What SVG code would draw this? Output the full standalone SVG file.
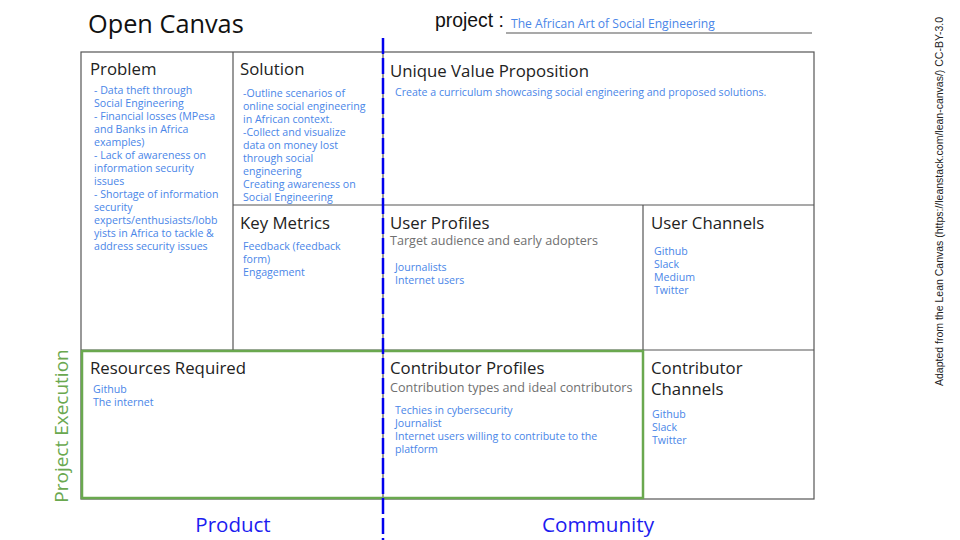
<svg xmlns="http://www.w3.org/2000/svg" width="960" height="540" viewBox="0 0 960 540">
<style>
.h{font-family:"Open Sans","Noto Sans",sans-serif;font-size:16.8px;fill:#222}
.b{font-family:"Open Sans","Noto Sans",sans-serif;font-size:10.6px;fill:#4a86e8}
.s{font-family:"Open Sans","Noto Sans",sans-serif;font-size:12.6px;fill:#707070}
.ln{stroke:#555;stroke-width:1.2;fill:none}
</style>
<rect width="960" height="540" fill="#fff"/>
<text x="88" y="33" font-family="'Open Sans','Noto Sans',sans-serif" font-size="25.3" fill="#111">Open Canvas</text>
<text x="435" y="27" font-family="'Liberation Sans',Arial,sans-serif" font-size="19.4" fill="#111">project :</text>
<line x1="506" y1="33" x2="812" y2="33" stroke="#555" stroke-width="1.2"/>
<text x="511" y="28" class="b" style="font-size:12.1px">The African Art of Social Engineering</text>
<text transform="translate(943,386) rotate(-90)" font-family="'Liberation Sans',Arial,sans-serif" font-size="10.5" fill="#222">Adapted from the Lean Canvas (https://leanstack.com/lean-canvas/) CC-BY-3.0</text>

<g id="grid">
<rect x="81" y="52" width="733" height="447" class="ln"/>
<line x1="233" y1="52" x2="233" y2="350" class="ln"/>
<line x1="383" y1="52" x2="383" y2="499" class="ln"/>
<line x1="233" y1="205" x2="814" y2="205" class="ln" stroke="#222"/>
<line x1="643" y1="205" x2="643" y2="499" class="ln"/>
<line x1="81" y1="350" x2="814" y2="350" class="ln"/>
</g>

<g id="problem">
<text x="90" y="75" class="h">Problem</text>
<text class="b"><tspan x="94" y="94">- Data theft through</tspan><tspan x="94" y="107">Social Engineering</tspan><tspan x="94" y="120">- Financial losses (MPesa</tspan><tspan x="94" y="133">and Banks in Africa</tspan><tspan x="94" y="146">examples)</tspan><tspan x="94" y="159">- Lack of awareness on</tspan><tspan x="94" y="172">information security</tspan><tspan x="94" y="185">issues</tspan><tspan x="94" y="198">- Shortage of information</tspan><tspan x="94" y="211">security</tspan><tspan x="94" y="224">experts/enthusiasts/lobb</tspan><tspan x="94" y="237">yists in Africa to tackle &amp;</tspan><tspan x="94" y="250">address security issues</tspan></text>
</g>

<g id="solution">
<text x="240" y="75" class="h">Solution</text>
<text class="b"><tspan x="243" y="97">-Outline scenarios of</tspan><tspan x="243" y="110">online social engineering</tspan><tspan x="243" y="123">in African context.</tspan><tspan x="243" y="136">-Collect and visualize</tspan><tspan x="243" y="149">data on money lost</tspan><tspan x="243" y="162">through social</tspan><tspan x="243" y="175">engineering</tspan><tspan x="243" y="188">Creating awareness on</tspan><tspan x="243" y="201">Social Engineering</tspan></text>
</g>

<g id="key-metrics">
<text x="240" y="229" class="h">Key Metrics</text>
<text class="b"><tspan x="243" y="250">Feedback (feedback</tspan><tspan x="243" y="263">form)</tspan><tspan x="243" y="276">Engagement</tspan></text>
</g>

<g id="uvp">
<text x="390" y="77" class="h">Unique Value Proposition</text>
<text x="395" y="96" class="b" style="font-size:10.6px">Create a curriculum showcasing social engineering and proposed solutions.</text>
</g>

<g id="user-profiles">
<text x="390" y="229" class="h">User Profiles</text>
<text x="390" y="245" class="s">Target audience and early adopters</text>
<text class="b"><tspan x="395" y="271">Journalists</tspan><tspan x="395" y="284">Internet users</tspan></text>
</g>

<g id="user-channels">
<text x="651" y="229" class="h">User Channels</text>
<text class="b"><tspan x="654" y="255">Github</tspan><tspan x="654" y="268">Slack</tspan><tspan x="654" y="281">Medium</tspan><tspan x="654" y="294">Twitter</tspan></text>
</g>

<g id="resources">
<rect x="82" y="351" width="561" height="147" fill="none" stroke="#6aa84f" stroke-width="2.5"/>
<text x="90" y="374" class="h">Resources Required</text>
<text class="b"><tspan x="93" y="393">Github</tspan><tspan x="93" y="406">The internet</tspan></text>
</g>

<g id="contributor-profiles">
<text x="390" y="374" class="h">Contributor Profiles</text>
<text x="390" y="392" class="s">Contribution types and ideal contributors</text>
<text class="b"><tspan x="395" y="414">Techies in cybersecurity</tspan><tspan x="395" y="427">Journalist</tspan><tspan x="395" y="440">Internet users willing to contribute to the</tspan><tspan x="395" y="453">platform</tspan></text>
</g>

<g id="contributor-channels">
<text class="h"><tspan x="651" y="374">Contributor</tspan><tspan x="651" y="395">Channels</tspan></text>
<text class="b"><tspan x="652" y="418">Github</tspan><tspan x="652" y="431">Slack</tspan><tspan x="652" y="444">Twitter</tspan></text>
</g>

<g id="connectors">
<line x1="383" y1="38" x2="383" y2="540" stroke="#0000ee" stroke-width="2.5" stroke-dasharray="16 4"/>
</g>

<text transform="translate(68,426) rotate(-90)" text-anchor="middle" font-family="'Open Sans','Noto Sans',sans-serif" font-size="19" fill="#6aa84f">Project Execution</text>
<text x="233" y="532" text-anchor="middle" font-family="'Open Sans','Noto Sans',sans-serif" font-size="20.5" fill="#1c1cf0">Product</text>
<text x="598" y="532" text-anchor="middle" font-family="'Open Sans','Noto Sans',sans-serif" font-size="20.7" fill="#1c1cf0">Community</text>
</svg>
